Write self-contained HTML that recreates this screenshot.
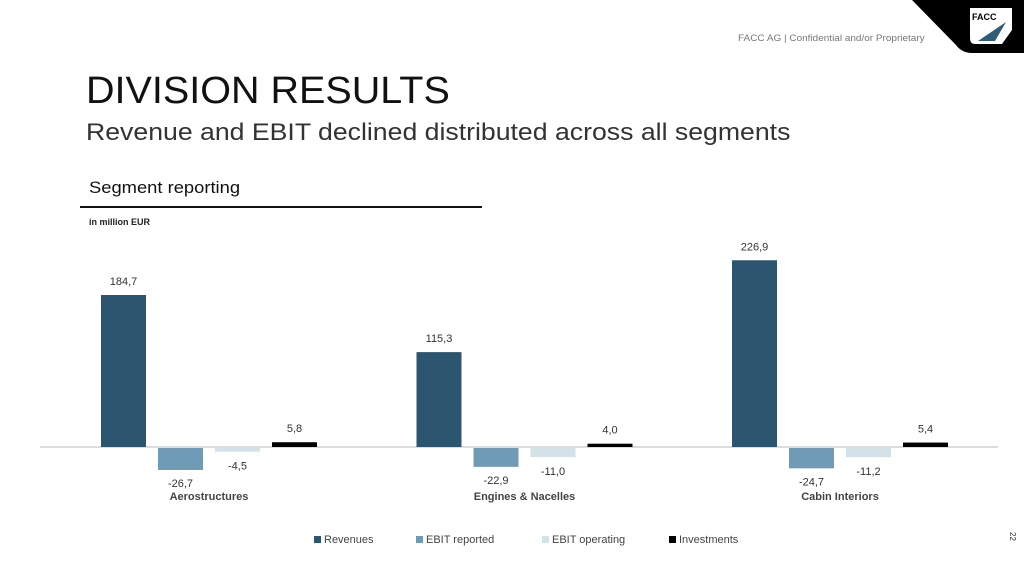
<!DOCTYPE html>
<html><head><meta charset="utf-8"><style>
body{margin:0;width:1024px;height:576px;background:#fff;overflow:hidden;font-family:"Liberation Sans",sans-serif;position:relative}
.abs{position:absolute;white-space:nowrap}
</style></head><body>
<svg class="abs" style="left:0;top:0" width="1024" height="60">
<path d="M912,0 L1024,0 L1024,53 L972,53 Q962,53 956,45 Z" fill="#000"/>
<path d="M970,8 L1012,8 L1012,30 L1002,44 L975,44 Q970,44 970,38 Z" fill="#fff"/>
<path d="M1006,22 L995,41 L978,41 Z" fill="#2e5d79"/>
<text x="972" y="20" font-size="9" font-weight="bold" fill="#000" font-family="Liberation Sans">FACC</text>
</svg>
<div class="abs" style="left:738px;top:33px;font-size:9.5px;color:#777;transform-origin:left;transform:scaleX(1.05)">FACC AG | Confidential and/or Proprietary</div>
<div class="abs" style="left:86px;top:70px;font-size:38px;color:#111;transform-origin:left;transform:scaleX(1.04)">DIVISION RESULTS</div>
<div class="abs" style="left:86px;top:119px;font-size:24px;color:#333;transform-origin:left;transform:scaleX(1.11)">Revenue and EBIT declined distributed across all segments</div>
<div class="abs" style="left:89px;top:178px;font-size:17px;color:#111;transform-origin:left;transform:scaleX(1.08)">Segment reporting</div>
<div class="abs" style="left:80px;top:206px;width:402px;height:2px;background:#111"></div>
<div class="abs" style="left:89px;top:217px;font-size:9px;font-weight:bold;color:#222">in million EUR</div>
<div class="abs" style="left:1008px;top:532px;font-size:8px;color:#333;transform:rotate(90deg)">22</div>
<svg id="chart" class="abs" style="left:0;top:0" width="1024" height="576"></svg>
<script>
const categories=["Aerostructures","Engines & Nacelles","Cabin Interiors"];
const seriesNames=["Revenues","EBIT reported","EBIT operating","Investments"];
const revenues=[184.7,115.3,226.9];
const ebitReported=[-26.7,-22.9,-24.7];
const ebitOperating=[-4.5,-11.0,-11.2];
const investments=[5.8,4.0,5.4];
const colors=["#2c5570","#6f9bb7","#d3e1e8","#000"];
const series=[revenues,ebitReported,ebitOperating,investments];
const svg=document.getElementById('chart');
const NS="http://www.w3.org/2000/svg";
const base=447,k=152/184.7;
const y=v=>base-v*k;
const gx=i=>101+i*315.5;
const bx=(i,s)=>gx(i)+s*57;
function mk(t,a){const e=document.createElementNS(NS,t);for(const q in a)e.setAttribute(q,a[q]);svg.appendChild(e);return e;}
const ax=mk('line',{x1:40,x2:998,y1:base,y2:base,stroke:'#d0d0d0','stroke-width':1.5});


const fmt=v=>v.toFixed(1).replace('.',',');
series.forEach((arr,s)=>arr.forEach((v,i)=>{
 const top=Math.min(y(v),base),h=Math.max(Math.abs(y(v)-base),2);
 const r=mk('rect',{x:bx(i,s),y:v>=0?top:base+1,width:45,height:h,fill:colors[s]});
 
 
 const ly=v>=0?top-10:base+h+(s===1?18:19);
 const t=mk('text',{x:bx(i,s)+22.5,y:ly,'text-anchor':'middle','font-size':11,fill:'#333','font-family':'Liberation Sans'});
 t.textContent=fmt(v);
 
 
}));
categories.forEach((c,i)=>{
 const t=mk('text',{x:gx(i)+108,y:500,'text-anchor':'middle','font-size':11,'font-weight':'bold',fill:'#444','font-family':'Liberation Sans'});
 t.textContent=c;
 
 
});
const lx=[314,416,542,669];
seriesNames.forEach((n,s)=>{
 const r=mk('rect',{x:lx[s],y:536,width:7,height:7,fill:colors[s]});
 
 
 const t=mk('text',{x:lx[s]+10,y:543,'font-size':11,fill:'#444','font-family':'Liberation Sans'});
 t.textContent=n;
 
 
});
</script>
</body></html>
